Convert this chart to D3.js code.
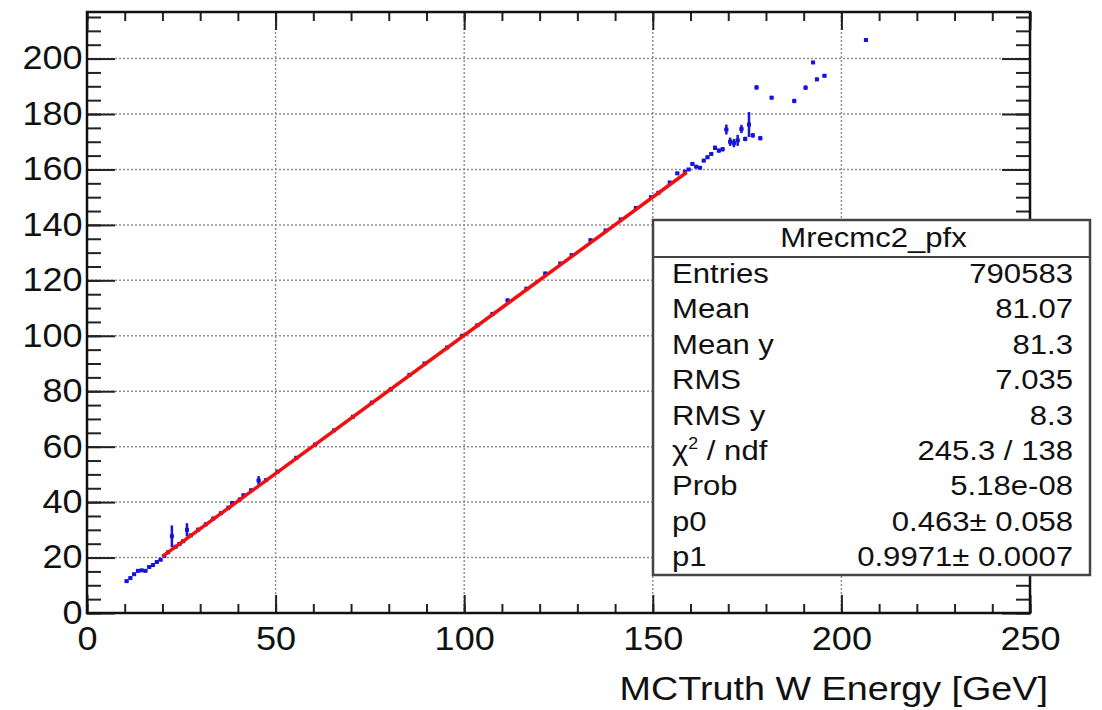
<!DOCTYPE html>
<html lang="en">
<head>
<meta charset="UTF-8">
<title>Mrecmc2_pfx</title>
<style>
  body { margin: 0; background: #fff; }
  text { font-family: "Liberation Sans", Arial, sans-serif; fill: #111; }
</style>
</head>
<body>
<svg width="1102" height="710"></svg>

<script src="https://d3js.org/d3.v7.min.js"></script>
<script>
// profile points (bin centre, mean, error)
var profX = [10.5, 11.5, 12.5, 13.5, 14.5, 15.5, 16.5, 17.5, 18.5, 19.5,
             20.5, 21.5, 22.5, 23.5, 24.5, 25.5, 26.5, 27.5, 29.5, 31.5,
             33.5, 35.5, 37.5, 38.5, 40.5, 41.5, 43.5, 45.5, 47.5, 50.5,
             55.5, 60.5, 65.5, 70.5, 75.5, 80.5, 85.5, 89.5, 95.5, 99.5,
             103.5, 107.5, 111.5, 116.5, 121.5, 125.5, 128.5, 133.5, 137.5, 141.5,
             145.5, 149.5, 151.5, 154.5, 156.5, 158.5, 159.5, 160.5, 161.5, 162.5,
             163.5, 164.5, 165.5, 166.5, 167.5, 168.5, 169.5, 170.5, 171.5, 172.5,
             173.5, 174.5, 175.5, 176.5, 177.5, 178.5, 181.5, 187.5, 190.5, 192.5,
             193.5, 195.5, 206.5];
var profY = [11.5, 12.6, 14.0, 15.2, 15.4, 15.2, 16.6, 17.3, 18.4, 19.2,
             20.6, 21.9, 27.7, 23.9, 24.9, 25.9, 30.0, 28.0, 30.1, 32.0,
             34.1, 36.0, 38.0, 39.7, 41.0, 42.5, 44.3, 47.8, 48.0, 51.0,
             56.0, 60.8, 65.9, 70.8, 75.9, 80.7, 85.9, 90.0, 95.8, 100.0,
             103.8, 107.9, 112.8, 117.0, 122.5, 126.1, 129.1, 134.5, 138.0, 142.0,
             146.1, 150.0, 151.6, 155.3, 158.6, 159.2, 160.0, 162.0, 161.0, 160.6,
             163.2, 164.4, 165.6, 167.8, 166.8, 167.3, 174.4, 170.0, 169.5, 170.5,
             174.6, 171.0, 176.2, 172.3, 189.6, 171.3, 185.9, 184.7, 189.5, 198.6,
             192.5, 193.8, 206.7];
var profErr = [0.5, 0.5, 0.5, 0.5, 0.4, 0.4, 0.4, 0.4, 0.4, 0.4,
               0.4, 0.4, 3.9, 0.4, 0.4, 0.4, 2.4, 0.4, 0.4, 0.4,
               0.4, 0.4, 0.4, 0.4, 0.4, 0.4, 0.4, 1.6, 0.4, 0.3,
               0.3, 0.3, 0.3, 0.3, 0.3, 0.3, 0.3, 0.3, 0.3, 0.3,
               0.3, 0.3, 0.3, 0.3, 0.3, 0.3, 0.3, 0.3, 0.3, 0.3,
               0.3, 0.3, 0.3, 0.4, 0.5, 0.5, 0.5, 0.6, 0.5, 0.5,
               0.6, 0.6, 0.7, 0.8, 0.7, 0.8, 1.8, 1.5, 1.5, 2.0,
               1.5, 0.8, 4.5, 0.8, 0.8, 0.8, 0.6, 0.8, 0.8, 0.5,
               0.6, 0.6, 0.5];

// fit p0 + p1*x
var fitP0 = 0.463, fitP1 = 0.9971, fitRange = [20, 159];

var statsTitle = "Mrecmc2_pfx";
var statsLabels = ["Entries", "Mean", "Mean y", "RMS", "RMS y", "chi2", "Prob", "p0", "p1"];
var statsValues = ["790583", "81.07", "81.3", "7.035", "8.3", "245.3 / 138", "5.18e-08",
                   "0.463\u00b1 0.058", "0.9971\u00b1 0.0007"];

var xTicks = [0, 50, 100, 150, 200, 250];
var yTicks = [0, 20, 40, 60, 80, 100, 120, 140, 160, 180, 200];
var xTitle = "MCTruth W Energy [GeV]";

var svg = d3.select("svg");
var frame = {left: 87, right: 1030, top: 12, bottom: 613};
var stretch = 1.11; // text in the picture is a little wider than Helvetica

var x = d3.scaleLinear().domain([0, 250]).range([frame.left, frame.right]);
var y = d3.scaleLinear().domain([0, 216.8]).range([frame.bottom, frame.top]);

// grid
var grid = svg.append("g").attr("stroke", "#8f8f8f").attr("stroke-width", 1.5)
  .attr("stroke-dasharray", "2,2");
grid.selectAll(".gx").data(xTicks.slice(1, -1)).enter().append("line")
  .attr("x1", d => x(d)).attr("x2", d => x(d))
  .attr("y1", frame.top).attr("y2", frame.bottom);
grid.selectAll(".gy").data(yTicks.slice(1)).enter().append("line")
  .attr("x1", frame.left).attr("x2", frame.right)
  .attr("y1", d => y(d)).attr("y2", d => y(d));

function axisStyle(g) {
  g.select(".domain").remove();
  g.selectAll("line").attr("stroke", "#222").attr("stroke-width", 2);
  g.selectAll("text").attr("font-size", 32.5).attr("fill", "#111")
    .attr("font-family", "Liberation Sans, Arial, sans-serif")
    .attr("transform", "scale(" + stretch + ",1)");
}

var minorX = d3.range(0, 251, 10);
var minorY = d3.range(0, 216, 5);

// bottom axis
svg.append("g").attr("transform", "translate(0," + frame.bottom + ")")
  .call(d3.axisBottom(x).tickValues(minorX).tickSizeInner(-9).tickSizeOuter(0).tickFormat(""))
  .call(axisStyle);
svg.append("g").attr("transform", "translate(0," + frame.bottom + ")")
  .call(d3.axisBottom(x).tickValues(xTicks).tickSizeInner(-18).tickSizeOuter(0).tickPadding(14)
    .tickFormat(d3.format("d")))
  .call(axisStyle);
// top axis
svg.append("g").attr("transform", "translate(0," + frame.top + ")")
  .call(d3.axisTop(x).tickValues(minorX).tickSizeInner(-9).tickSizeOuter(0).tickFormat(""))
  .call(axisStyle);
svg.append("g").attr("transform", "translate(0," + frame.top + ")")
  .call(d3.axisTop(x).tickValues(xTicks).tickSizeInner(-18).tickSizeOuter(0).tickFormat(""))
  .call(axisStyle);
// left axis
svg.append("g").attr("transform", "translate(" + frame.left + ",0)")
  .call(d3.axisLeft(y).tickValues(minorY).tickSizeInner(-14).tickSizeOuter(0).tickFormat(""))
  .call(axisStyle);
svg.append("g").attr("transform", "translate(" + frame.left + ",0)")
  .call(d3.axisLeft(y).tickValues(yTicks).tickSizeInner(-28).tickSizeOuter(0).tickPadding(4))
  .call(axisStyle);
// right axis
svg.append("g").attr("transform", "translate(" + frame.right + ",0)")
  .call(d3.axisRight(y).tickValues(minorY).tickSizeInner(-14).tickSizeOuter(0).tickFormat(""))
  .call(axisStyle);
svg.append("g").attr("transform", "translate(" + frame.right + ",0)")
  .call(d3.axisRight(y).tickValues(yTicks).tickSizeInner(-28).tickSizeOuter(0).tickFormat(""))
  .call(axisStyle);

// frame
svg.append("rect")
  .attr("x", frame.left).attr("y", frame.top)
  .attr("width", frame.right - frame.left).attr("height", frame.bottom - frame.top)
  .attr("fill", "none").attr("stroke", "#111").attr("stroke-width", 2.5);

// profile points
var blue = "#1414dc";
var pts = svg.append("g").attr("stroke", blue).attr("stroke-width", 2.5);
profX.forEach(function(d, i) {
  pts.append("line")
    .attr("x1", x(d)).attr("x2", x(d))
    .attr("y1", y(profY[i] - profErr[i])).attr("y2", y(profY[i] + profErr[i]));
  pts.append("line")
    .attr("x1", x(d - 0.5)).attr("x2", x(d + 0.5))
    .attr("y1", y(profY[i])).attr("y2", y(profY[i]));
});
svg.append("g").selectAll("rect").data(profX).enter().append("rect")
  .attr("x", d => x(d) - 2).attr("y", (d, i) => y(profY[i]) - 2)
  .attr("width", 4).attr("height", 4).attr("fill", blue);

// fit line
var fitLine = d3.line().x(d => x(d)).y(d => y(fitP0 + fitP1 * d));
svg.append("path").datum(fitRange)
  .attr("d", fitLine)
  .attr("stroke", "#f01010").attr("stroke-width", 3.5).attr("fill", "none");

// stats box
var box = {x: 653, y: 220, w: 437, h: 355, titleH: 37};
var sb = svg.append("g");
sb.append("rect").attr("x", box.x).attr("y", box.y).attr("width", box.w).attr("height", box.h)
  .attr("fill", "#fff").attr("stroke", "#444").attr("stroke-width", 2.5);
sb.append("line").attr("x1", box.x).attr("x2", box.x + box.w)
  .attr("y1", box.y + box.titleH).attr("y2", box.y + box.titleH)
  .attr("stroke", "#444").attr("stroke-width", 2);

function stretchedText(parent, px, py, size, anchor) {
  return parent.append("text")
    .attr("transform", "translate(" + px + "," + py + ") scale(" + stretch + ",1)")
    .attr("font-size", size).attr("text-anchor", anchor);
}

stretchedText(sb, box.x + box.w / 2 + 2, box.y + 27, 28, "middle").text(statsTitle);

var rowY = d3.scaleLinear().domain([0, 8]).range([283, 566]);
statsLabels.forEach(function(lab, i) {
  var t = stretchedText(sb, 672, rowY(i), 28, "start");
  if (lab === "chi2") {
    t.append("tspan").text("\u03c7");
    t.append("tspan").attr("font-size", 16).attr("dy", -11).text("2");
    t.append("tspan").attr("dy", 11).text(" / ndf");
  } else {
    t.text(lab);
  }
  stretchedText(sb, 1073, rowY(i), 28, "end").text(statsValues[i]);
});

// x title
stretchedText(svg, 1048, 700, 34, "end").text(xTitle);
</script>
</body>
</html>
